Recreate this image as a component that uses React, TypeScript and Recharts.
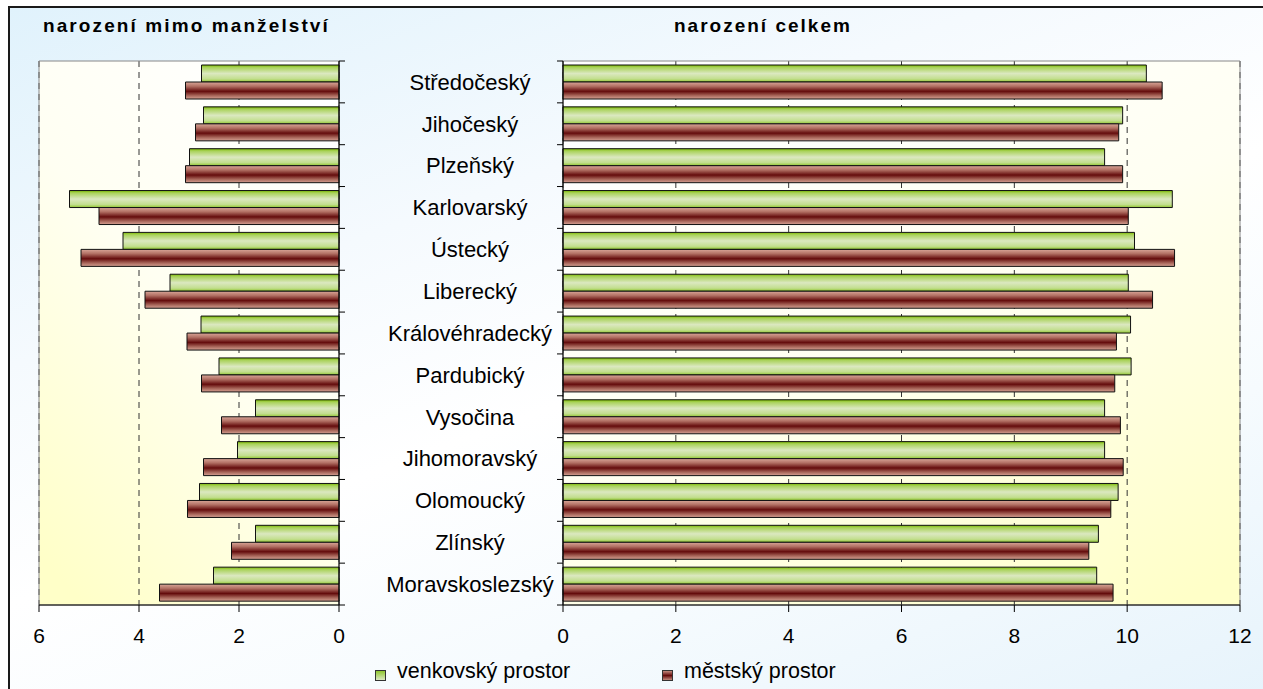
import React from "react";
import { BarChart, Bar, XAxis, YAxis, CartesianGrid, ReferenceArea } from "recharts";

const regions = [
  "Středočeský",
  "Jihočeský",
  "Plzeňský",
  "Karlovarský",
  "Ústecký",
  "Liberecký",
  "Královéhradecký",
  "Pardubický",
  "Vysočina",
  "Jihomoravský",
  "Olomoucký",
  "Zlínský",
  "Moravskoslezský",
];

// narození mimo manželství
const ruralOutside = [2.75, 2.71, 2.99, 5.39, 4.32, 3.38, 2.76, 2.4, 1.67, 2.03, 2.79, 1.67, 2.51];
const urbanOutside = [3.07, 2.87, 3.07, 4.8, 5.16, 3.88, 3.04, 2.75, 2.35, 2.71, 3.03, 2.15, 3.59];

// narození celkem
const ruralTotal = [10.34, 9.92, 9.6, 10.8, 10.13, 10.02, 10.06, 10.07, 9.6, 9.6, 9.84, 9.49, 9.46];
const urbanTotal = [10.62, 9.85, 9.92, 10.02, 10.84, 10.45, 9.81, 9.78, 9.88, 9.93, 9.71, 9.32, 9.75];

const outsideTicks = [0, 2, 4, 6];
const totalTicks = [0, 2, 4, 6, 8, 10, 12];
// whole numbers = category boundaries (tick marks), halves = category centres (labels)
const rowTicks = [
  0, 0.5, 1, 1.5, 2, 2.5, 3, 3.5, 4, 4.5, 5, 5.5, 6, 6.5, 7, 7.5, 8, 8.5, 9, 9.5, 10, 10.5, 11, 11.5,
  12, 12.5, 13,
];

const outsideData = regions.map((name, i) => ({ name, rural: ruralOutside[i], urban: urbanOutside[i] }));
const totalData = regions.map((name, i) => ({ name, rural: ruralTotal[i], urban: urbanTotal[i] }));

const FONT = "'Liberation Sans', Arial, sans-serif";
const tickStyle = { fill: "#000", fontSize: 21, fontFamily: FONT };

function RowTick(props: any) {
  const { x, y, payload, side } = props;
  const v = payload.value;
  if (Number.isInteger(v)) {
    const dx = side === "right" ? 6 : -6;
    return <line x1={x} x2={x + dx} y1={y} y2={y} stroke="#000" strokeWidth={1} />;
  }
  if (side === "right") return <g />;
  return (
    <text x={x - 93} y={y} dy="0.355em" textAnchor="middle" fontSize={22} fontFamily={FONT} fill="#000">
      {regions[Math.floor(v)]}
    </text>
  );
}

function BarDefs({ id }: { id: string }) {
  return (
    <defs>
      <linearGradient id={`green${id}`} x1="0" y1="0" x2="0" y2="1">
        <stop offset="0%" stopColor="#7cba00" />
        <stop offset="14%" stopColor="#a9d25a" />
        <stop offset="50%" stopColor="#dbe8c0" />
        <stop offset="82%" stopColor="#c2de8e" />
        <stop offset="100%" stopColor="#8fc62e" />
      </linearGradient>
      <linearGradient id={`red${id}`} x1="0" y1="0" x2="0" y2="1">
        <stop offset="0%" stopColor="#d9a698" />
        <stop offset="25%" stopColor="#b27064" />
        <stop offset="55%" stopColor="#640c0c" />
        <stop offset="80%" stopColor="#a8665a" />
        <stop offset="100%" stopColor="#d6a294" />
      </linearGradient>
      <linearGradient id={`bg${id}`} x1={id === "L" ? "0.75" : "0.25"} y1="0" x2={id === "L" ? "0.15" : "0.9"} y2="1">
        <stop offset="0%" stopColor="#ffffff" />
        <stop offset="45%" stopColor="#fffff2" />
        <stop offset="100%" stopColor="#ffffc8" />
      </linearGradient>
    </defs>
  );
}

function LegendItem({ left, color, label }: { left: number; color: string; label: string }) {
  return (
    <>
      <div
        style={{
          position: "absolute",
          left,
          top: 670,
          width: 9,
          height: 9,
          border: "1px solid #333",
          background: color,
        }}
      />
      <div
        style={{
          position: "absolute",
          left: left + 22,
          top: 661,
          fontSize: 21.5,
          lineHeight: "21.5px",
          whiteSpace: "nowrap",
        }}
      >
        {label}
      </div>
    </>
  );
}

export default function App() {
  return (
    <div style={{ position: "relative", width: 1263, height: 689, overflow: "hidden", background: "#fff", fontFamily: FONT }}>
      <style>{"body{margin:0;overflow:hidden}"}</style>
      <div
        style={{
          position: "absolute",
          left: 8,
          top: 6,
          width: 1300,
          height: 720,
          borderLeft: "2px solid #1a1a1a",
          borderTop: "2px solid #1a1a1a",
          background:
            "linear-gradient(160deg, #e0f2fc 0%, #f5fafe 30%, #ffffff 50%, #f6fbfe 70%, #e4f2fb 100%)",
        }}
      />

      <div
        style={{
          position: "absolute",
          left: 43,
          top: 16,
          fontSize: 19,
          lineHeight: "19px",
          fontWeight: "bold",
          letterSpacing: 2.1,
          whiteSpace: "nowrap",
        }}
      >
        narození mimo manželství
      </div>
      <div
        style={{
          position: "absolute",
          left: 674,
          top: 16,
          fontSize: 19,
          lineHeight: "19px",
          fontWeight: "bold",
          letterSpacing: 2.0,
          whiteSpace: "nowrap",
        }}
      >
        narození celkem
      </div>

      <div style={{ position: "absolute", left: 0, top: 0 }}>
        <BarChart
          width={400}
          height={689}
          data={outsideData}
          layout="vertical"
          margin={{ top: 61, right: 0, bottom: 44, left: 39 }}
          barCategoryGap={4}
          barGap={0}
        >
          <BarDefs id="L" />
          <CartesianGrid horizontal={false} stroke="#333" strokeDasharray="6 5" fill="url(#bgL)" />
          <ReferenceArea x1={0} x2={6} stroke="#888" strokeWidth={1} fill="none" fillOpacity={0} ifOverflow="visible" />
          <XAxis
            type="number"
            reversed
            domain={[0, 6]}
            ticks={outsideTicks}
            interval={0}
            height={40}
            tick={tickStyle}
            tickSize={7}
            tickMargin={16}
            axisLine={{ stroke: "#000" }}
            tickLine={{ stroke: "#000" }}
          />
          <YAxis type="category" dataKey="name" orientation="left" hide />
          <YAxis
            yAxisId="rows"
            type="number"
            dataKey="rural"
            orientation="right"
            domain={[0, 13]}
            allowDataOverflow
            ticks={rowTicks}
            interval={0}
            width={61}
            tickSize={0}
            tickMargin={0}
            tickLine={false}
            axisLine={{ stroke: "#000" }}
            tick={(p: any) => <RowTick {...p} side="right" />}
          />
          <Bar dataKey="rural" fill="url(#greenL)" stroke="#111" strokeWidth={1} isAnimationActive={false} />
          <Bar dataKey="urban" fill="url(#redL)" stroke="#111" strokeWidth={1} isAnimationActive={false} />
        </BarChart>
      </div>

      <div style={{ position: "absolute", left: 350, top: 0 }}>
        <BarChart
          width={913}
          height={689}
          data={totalData}
          layout="vertical"
          margin={{ top: 61, right: 23, bottom: 44, left: 0 }}
          barCategoryGap={4}
          barGap={0}
        >
          <BarDefs id="R" />
          <CartesianGrid horizontal={false} stroke="#333" strokeDasharray="6 5" fill="url(#bgR)" />
          <ReferenceArea x1={0} x2={12} stroke="#888" strokeWidth={1} fill="none" fillOpacity={0} ifOverflow="visible" />
          <XAxis
            type="number"
            domain={[0, 12]}
            ticks={totalTicks}
            interval={0}
            height={40}
            tick={tickStyle}
            tickSize={7}
            tickMargin={16}
            axisLine={{ stroke: "#000" }}
            tickLine={{ stroke: "#000" }}
          />
          <YAxis type="category" dataKey="name" orientation="right" hide />
          <YAxis
            yAxisId="rows"
            type="number"
            dataKey="rural"
            orientation="left"
            domain={[0, 13]}
            allowDataOverflow
            ticks={rowTicks}
            interval={0}
            width={213}
            tickSize={0}
            tickMargin={0}
            tickLine={false}
            axisLine={{ stroke: "#000" }}
            tick={(p: any) => <RowTick {...p} side="left" />}
          />
          <Bar dataKey="rural" fill="url(#greenR)" stroke="#111" strokeWidth={1} isAnimationActive={false} />
          <Bar dataKey="urban" fill="url(#redR)" stroke="#111" strokeWidth={1} isAnimationActive={false} />
        </BarChart>
      </div>

      <LegendItem left={375} color="linear-gradient(#8fc62e, #dbe8c0)" label="venkovský prostor" />
      <LegendItem left={662} color="linear-gradient(#c48a7e, #640c0c, #c48a7e)" label="městský prostor" />
    </div>
  );
}
